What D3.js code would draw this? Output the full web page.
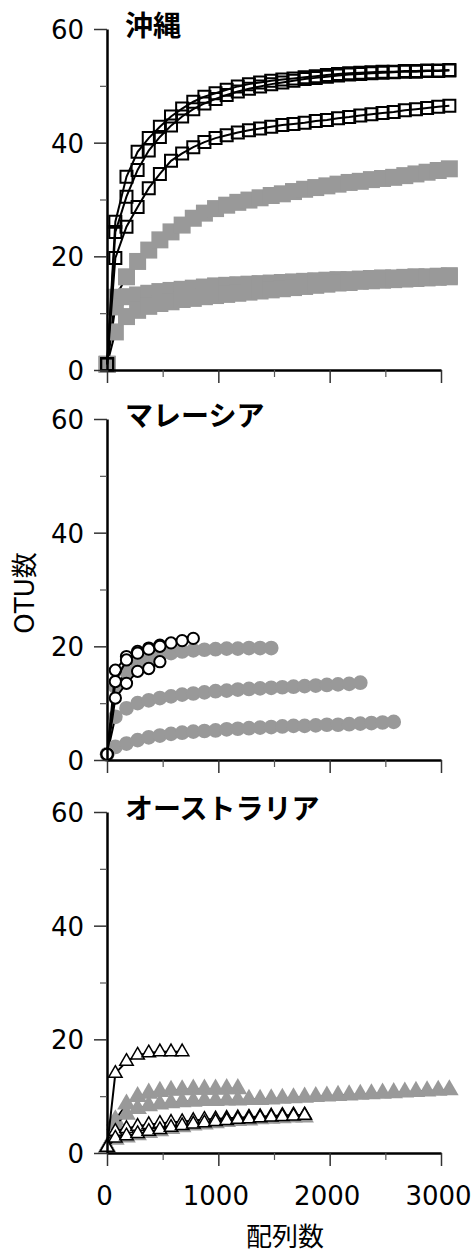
<!DOCTYPE html>
<html>
<head>
<meta charset="utf-8">
<script src="https://cdn.jsdelivr.net/npm/d3@7"></script>
<style>
  body { margin: 0; background: #fff; }
  svg { display: block; }
</style>
</head>
<body>
<svg id="chart" width="475" height="1255"></svg>
<script>
// number of sequences at which each rarefaction point was taken
const depth = [1, 75, 175, 275, 375, 475, 575, 675, 775, 875, 975, 1075, 1175, 1275, 1375, 1475,
  1575, 1675, 1775, 1875, 1975, 2075, 2175, 2275, 2375, 2475, 2575, 2675, 2775, 2875, 2975, 3075];

// 沖縄
const okiBlackA = [1, 26.1, 34.0, 38.4, 40.8, 42.8, 44.6, 46.0, 47.2, 48.1, 48.7, 49.3, 49.9, 50.3, 50.6, 50.9,
  51.1, 51.3, 51.5, 51.7, 51.9, 52.1, 52.2, 52.3, 52.4, 52.5, 52.5, 52.6, 52.6, 52.7, 52.7, 52.8];
const okiBlackB = [1, 24.3, 30.5, 35.2, 38.6, 41.0, 43.0, 44.6, 45.9, 46.9, 47.7, 48.4, 49.0, 49.5, 49.9, 50.3,
  50.6, 50.9, 51.2, 51.4, 51.6, 51.8, 52.0, 52.1, 52.2, 52.3, 52.4, 52.5, 52.5, 52.6, 52.6, 52.7];
const okiBlackC = [1, 19.7, 25.2, 28.7, 32.0, 34.5, 36.8, 38.1, 39.2, 40.1, 40.8, 41.3, 41.8, 42.2, 42.5, 42.8,
  43.1, 43.3, 43.5, 43.8, 44.0, 44.3, 44.5, 44.8, 45.0, 45.2, 45.4, 45.7, 45.9, 46.1, 46.3, 46.5];
const okiGray1 = [1, 12.8, 16.4, 19.1, 21.1, 22.9, 24.3, 25.5, 26.7, 27.6, 28.4, 29.0, 29.5, 29.9, 30.3, 30.7,
  31.0, 31.4, 31.8, 32.1, 32.4, 32.7, 33.0, 33.2, 33.5, 33.7, 33.9, 34.2, 34.5, 34.8, 35.1, 35.4];
const okiGray2 = [1, 11.1, 12.9, 13.2, 13.5, 13.8, 14.0, 14.2, 14.4, 14.6, 14.8, 14.9, 15.0, 15.1, 15.2, 15.3,
  15.4, 15.5, 15.6, 15.7, 15.8, 15.9, 15.9, 16.0, 16.1, 16.2, 16.2, 16.3, 16.4, 16.4, 16.5, 16.6];
const okiGray3 = [1, 6.7, 9.4, 10.5, 11.2, 11.7, 12.0, 12.4, 12.6, 12.9, 13.1, 13.3, 13.5, 13.7, 13.9, 14.1,
  14.3, 14.5, 14.7, 14.9, 15.1, 15.3, 15.4, 15.6, 15.7, 15.8, 15.9, 16.0, 16.1, 16.2, 16.3, 16.4];

// マレーシア
const malBlackA = [1, 15.8, 18.2, 19.1, 19.7, 20.2, 20.6, 21.0, 21.4];
const malBlackB = [1, 13.8, 17.6, 18.8, 19.5, 20.0];
const malBlackC = [1, 10.9, 13.5, 15.6, 16.1, 17.3];
const malGray1 = [1, 12.9, 15.5, 17.0, 17.8, 18.4, 18.8, 19.1, 19.3, 19.4, 19.5, 19.6, 19.6, 19.7, 19.7, 19.7];
const malGray2 = [1, 7.6, 9.1, 10.0, 10.5, 10.9, 11.2, 11.5, 11.7, 11.9, 12.1, 12.2, 12.4, 12.5, 12.6, 12.7,
  12.8, 12.9, 13.0, 13.1, 13.2, 13.3, 13.4, 13.6];
const malGray3 = [1, 2.3, 2.9, 3.5, 4.0, 4.3, 4.6, 4.8, 5.0, 5.1, 5.2, 5.4, 5.5, 5.6, 5.7, 5.8,
  5.9, 6.0, 6.0, 6.1, 6.2, 6.2, 6.3, 6.4, 6.5, 6.6, 6.7];

// オーストラリア
const ausBlackA = [1, 14.0, 16.1, 17.2, 17.6, 17.8, 17.8, 17.8];
const ausBlackB = [1, 3.8, 4.3, 4.7, 5.0, 5.2, 5.4, 5.5, 5.7, 5.9, 6.0, 6.1, 6.2, 6.3, 6.4, 6.5, 6.6, 6.7, 6.7];
const ausBlackC = [1, 2.6, 3.0, 3.4, 3.8, 4.1, 4.5, 4.8, 5.1, 5.3, 5.5, 5.7, 5.9, 6.0, 6.2, 6.3, 6.4, 6.5, 6.6];
const ausGray1 = [1, 5.8, 8.6, 9.9, 10.5, 10.8, 11.0, 11.1, 11.2, 11.2, 11.2, 11.3, 11.3];
const ausGray2 = [1, 5.0, 6.8, 7.8, 8.3, 8.6, 8.8, 9.0, 9.1, 9.2, 9.2, 9.3, 9.3, 9.4, 9.4, 9.5,
  9.6, 9.7, 9.8, 9.9, 10.0, 10.1, 10.2, 10.3, 10.4, 10.5, 10.6, 10.7, 10.8, 10.9, 11.0, 11.1];
const ausGray3 = [1, 2.4, 2.8, 3.2, 3.6, 3.9, 4.3, 4.6, 4.9, 5.1, 5.3, 5.5, 5.7, 5.8, 6.0, 6.1, 6.2, 6.3, 6.3];

const panelTitles = ["沖縄", "マレーシア", "オーストラリア"];
const yTicks = [0, 20, 40, 60];
const yMinor = [10, 30, 50];
const xTicks = [0, 1000, 2000, 3000];
const xMinor = [500, 1500, 2500];

const panels = [
  { title: panelTitles[0], shape: d3.symbolSquare, gray: [okiGray1, okiGray2, okiGray3], black: [okiBlackA, okiBlackB, okiBlackC] },
  { title: panelTitles[1], shape: d3.symbolCircle, gray: [malGray1, malGray2, malGray3], black: [malBlackA, malBlackB, malBlackC] },
  { title: panelTitles[2], shape: d3.symbolTriangle, gray: [ausGray1, ausGray2, ausGray3], black: [ausBlackA, ausBlackB, ausBlackC] }
];

// marker areas per shape: [gray, black]
const markerSize = new Map([
  [d3.symbolSquare, [289, 144]],
  [d3.symbolCircle, [170, 100]],
  [d3.symbolTriangle, [150, 78]]
]);

const FONT = "'DejaVu Sans', 'Noto Sans CJK JP', sans-serif";
const JP = "'Noto Sans CJK JP', sans-serif";
const GRAY = "#999999";

const svg = d3.select("#chart");
const x = d3.scaleLinear().domain([0, 3000]).range([107, 441]);
const baseY = [370, 760, 1153];

panels.forEach((p, i) => {
  const y = d3.scaleLinear().domain([0, 60]).range([baseY[i], baseY[i] - 341]);
  const g = svg.append("g");

  const line = d3.line()
    .x(d => x(d[0]))
    .y(d => y(d[1]));

  const toPts = vals => vals.map((v, k) => [depth[k], v]);
  const sizes = markerSize.get(p.shape);

  function drawSeries(vals, isGray) {
    const pts = toPts(vals);
    g.append("path")
      .datum(pts)
      .attr("fill", "none")
      .attr("stroke", "#000")
      .attr("stroke-width", 2)
      .attr("d", line);
    g.selectAll(null)
      .data(pts)
      .join("path")
      .attr("transform", d => `translate(${x(d[0])},${y(d[1])})`)
      .attr("d", d3.symbol().type(p.shape).size(isGray ? sizes[0] : sizes[1]))
      .attr("fill", isGray ? GRAY : (p.shape === d3.symbolSquare ? "none" : "#fff"))
      .attr("stroke", isGray ? "none" : "#000")
      .attr("stroke-width", p.shape === d3.symbolTriangle ? 1.5 : 2);
  }

  p.gray.forEach(s => drawSeries(s, true));
  p.black.forEach(s => drawSeries(s, false));

  // y axis
  const yAxis = g.append("g")
    .attr("transform", `translate(${x(0)},0)`)
    .call(d3.axisLeft(y).tickValues(yTicks).tickSize(13).tickSizeOuter(0).tickPadding(10));
  yAxis.select(".domain").attr("stroke", "#000").attr("stroke-width", 2.5);
  yAxis.selectAll(".tick line").attr("stroke", "#333").attr("stroke-width", 1.5);
  yAxis.selectAll(".tick text")
    .attr("font-family", FONT)
    .attr("font-size", 26)
    .attr("fill", "#000")
    .attr("dy", "0.36em");

  g.append("g")
    .attr("transform", `translate(${x(0)},0)`)
    .call(d3.axisLeft(y).tickValues(yMinor).tickSize(7).tickFormat(""))
    .call(s => s.select(".domain").remove())
    .selectAll(".tick line").attr("stroke", "#555").attr("stroke-width", 1.2);

  // x axis
  const xAxis = g.append("g")
    .attr("transform", `translate(0,${baseY[i]})`)
    .call(d3.axisBottom(x).tickValues(xTicks).tickSize(13).tickSizeOuter(0).tickFormat(d3.format("d")));
  xAxis.select(".domain").attr("stroke", "#000").attr("stroke-width", 2.5);
  xAxis.selectAll(".tick line").attr("stroke", "#333").attr("stroke-width", 1.5);
  if (i === panels.length - 1) {
    xAxis.selectAll(".tick text")
      .attr("font-family", FONT)
      .attr("font-size", 26)
      .attr("fill", "#000")
      .attr("x", -3)
      .attr("y", 52)
      .attr("dy", 0);
  } else {
    xAxis.selectAll(".tick text").remove();
  }

  g.append("g")
    .attr("transform", `translate(0,${baseY[i]})`)
    .call(d3.axisBottom(x).tickValues(xMinor).tickSize(7).tickFormat(""))
    .call(s => s.select(".domain").remove())
    .selectAll(".tick line").attr("stroke", "#555").attr("stroke-width", 1.2);

  // panel title
  g.append("text")
    .attr("x", 125)
    .attr("y", y(60) + 7)
    .attr("font-family", JP)
    .attr("font-weight", "bold")
    .attr("font-size", 28)
    .text(p.title);
});

// axis titles
svg.append("text")
  .attr("transform", "translate(25,593) rotate(-90)")
  .attr("text-anchor", "middle")
  .attr("dominant-baseline", "central")
  .attr("font-family", FONT)
  .attr("font-size", 26)
  .text("OTU数");

svg.append("text")
  .attr("x", 285)
  .attr("y", 1246)
  .attr("text-anchor", "middle")
  .attr("font-family", JP)
  .attr("font-size", 26)
  .text("配列数");
</script>
</body>
</html>
